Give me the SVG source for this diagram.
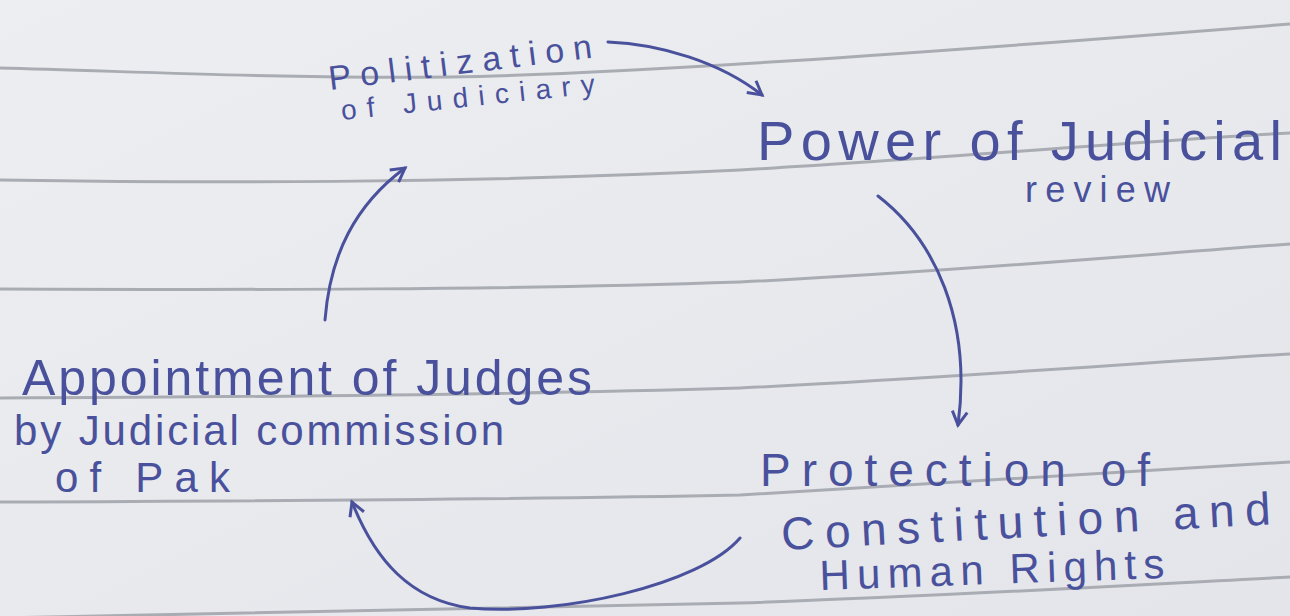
<svg xmlns="http://www.w3.org/2000/svg" width="1290" height="616" viewBox="0 0 1290 616">
<defs>
<linearGradient id="paper" x1="0" y1="0" x2="1" y2="1">
<stop offset="0" stop-color="#eceef1"/>
<stop offset="1" stop-color="#e3e5ea"/>
</linearGradient>
<marker id="ah" viewBox="0 0 12 12" refX="10" refY="6" markerWidth="6" markerHeight="6" orient="auto" markerUnits="strokeWidth">
<path d="M1,1 L10,6 L1,11" fill="none" stroke="#4a519c" stroke-width="2"/>
</marker>
<style>
.rule{fill:none;stroke:#a9adb3;stroke-width:3}
.ink{fill:#4a519c;font-family:"Liberation Sans",Arial,sans-serif}
.con{fill:none;stroke:#4a519c;stroke-width:3;stroke-linecap:round;marker-end:url(#ah)}
</style>
</defs>
<rect width="1290" height="616" fill="url(#paper)"/>
<g id="ruled-lines">
<path class="rule" d="M0,68 C150,72 300,79 450,77 C620,74 900,55 1290,24"/>
<path class="rule" d="M0,180 C200,183 450,184 740,170 C950,158 1150,140 1290,133"/>
<path class="rule" d="M0,289 C250,290 500,290 740,282 C950,272 1150,254 1290,244"/>
<path class="rule" d="M0,398 C250,397 500,395 740,388 C950,378 1150,362 1290,354"/>
<path class="rule" d="M0,502 C250,501 500,500 740,495 C950,484 1150,470 1290,462"/>
<path class="rule" d="M0,618 C300,612 550,607 740,603 C950,596 1150,584 1290,577"/>
</g>
<g id="connectors">
<path class="con" d="M608,42 C660,44 720,62 762,95"/>
<path class="con" d="M878,196 C935,240 972,320 958,425"/>
<path class="con" d="M740,538 C700,585 560,616 470,608 C410,600 375,560 352,502"/>
<path class="con" d="M325,320 C330,255 355,205 405,168"/>
</g>
<g id="node-politicization">
<text class="ink" font-size="34" transform="rotate(-7 330 90)" x="330" y="90" textLength="265" lengthAdjust="spacing">Politization</text>
<text class="ink" font-size="28" transform="rotate(-6 342 120)" x="342" y="120" textLength="255" lengthAdjust="spacing">of Judiciary</text>
</g>
<g id="node-power">
<text class="ink" font-size="56" x="757" y="160" textLength="525" lengthAdjust="spacing">Power of Judicial</text>
<text class="ink" font-size="36" x="1025" y="202" textLength="145" lengthAdjust="spacing">review</text>
</g>
<g id="node-appointment">
<text class="ink" font-size="50" x="22" y="395" textLength="570" lengthAdjust="spacing">Appointment of Judges</text>
<text class="ink" font-size="42" x="14" y="445" textLength="490" lengthAdjust="spacing">by Judicial commission</text>
<text class="ink" font-size="42" x="55" y="492" textLength="175" lengthAdjust="spacing">of Pak</text>
</g>
<g id="node-protection">
<text class="ink" font-size="46" x="760" y="486" textLength="390" lengthAdjust="spacing">Protection of</text>
<text class="ink" font-size="46" transform="rotate(-3 782 550)" x="782" y="550" textLength="490" lengthAdjust="spacing">Constitution and</text>
<text class="ink" font-size="42" transform="rotate(-2 820 590)" x="820" y="590" textLength="345" lengthAdjust="spacing">Human Rights</text>
</g>
</svg>
